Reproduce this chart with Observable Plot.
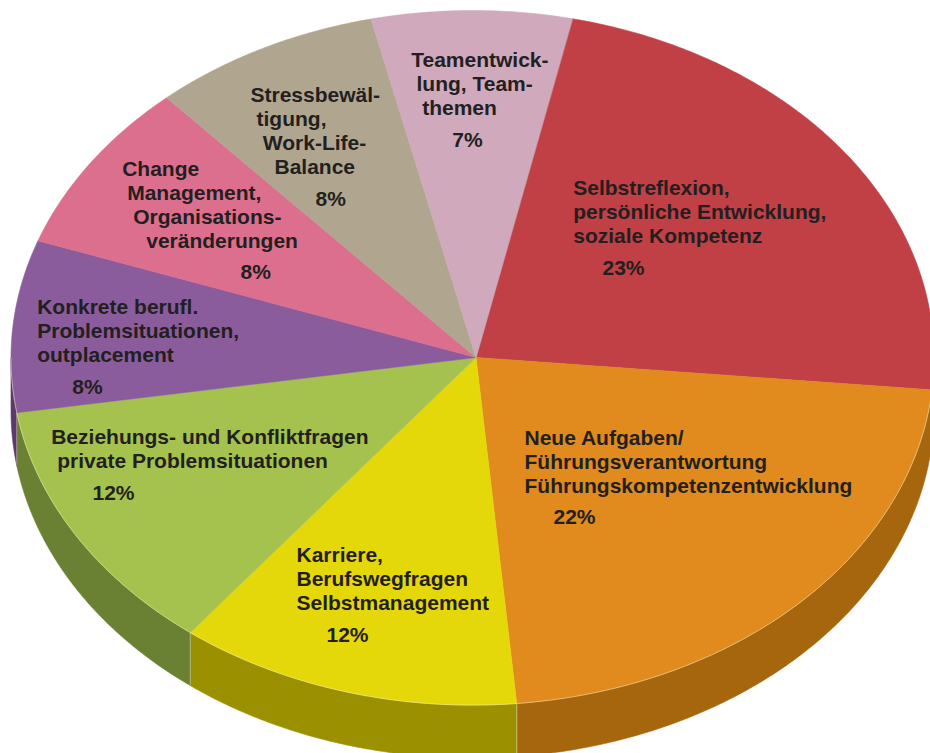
<!DOCTYPE html>
<html><head><meta charset="utf-8">
<script src="https://cdn.jsdelivr.net/npm/d3@7"></script>
<script src="https://cdn.jsdelivr.net/npm/@observablehq/plot@0.6"></script>
<style>html,body{margin:0;padding:0;background:#fff;} #chart svg{overflow:hidden;display:block}</style>
</head><body><div id="chart"></div>
<script>
// ---- data ----
const categories = [
  "Selbstreflexion, persönliche Entwicklung, soziale Kompetenz",
  "Neue Aufgaben/ Führungsverantwortung Führungskompetenzentwicklung",
  "Karriere, Berufswegfragen Selbstmanagement",
  "Beziehungs- und Konfliktfragen private Problemsituationen",
  "Konkrete berufl. Problemsituationen, outplacement",
  "Change Management, Organisationsveränderungen",
  "Stressbewältigung, Work-Life-Balance",
  "Teamentwicklung, Teamthemen"
];
const values = [23, 22, 12, 12, 8, 8, 8, 7];
const labelLines = [
  ["Selbstreflexion,", "persönliche Entwicklung,", "soziale Kompetenz"],
  ["Neue Aufgaben/", "Führungsverantwortung", "Führungskompetenzentwicklung"],
  ["Karriere,", "Berufswegfragen", "Selbstmanagement"],
  ["Beziehungs- und Konfliktfragen", "private Problemsituationen"],
  ["Konkrete berufl.", "Problemsituationen,", "outplacement"],
  ["Change", "Management,", "Organisations-", "veränderungen"],
  ["Stressbewäl-", "tigung,", "Work-Life-", "Balance"],
  ["Teamentwick-", "lung, Team-", "themen"]
];
const percentLabels = values.map(v => v + "%");

// ---- styles ----
const topColors  = ["#C04046", "#E18A1D", "#E5D80A", "#A4C24D", "#8A5C9C", "#DD6F8E", "#B0A68F", "#D0A9BC"];
const sideColors = ["#8E2A30", "#A5660D", "#9B9100", "#6A8033", "#5B3A6B", "#A8506A", "#857C68", "#A08090"];

// ---- layout (pixels) ----
const W = 930, H = 753;
const cx = 472, cy = 357.3, rx = 461.5, ry = 347.3, depth = 53, startDeg = 12.5;
const vertex = [475.5, 357];
// label anchors: [x, first baseline, per-line indents, percent x]
const labelLayout = [
  [572.7, 194.3, [0, 0, 0], 602],
  [524, 444, [0, 0, 0], 553],
  [296, 561.7, [0, 0, 0], 326],
  [50.7, 443.3, [0, 6], 92],
  [36.7, 313.3, [0, 0, 0], 71.7],
  [121.7, 175, [0, 5, 11, 24], 240],
  [250, 101.7, [0, 6, 12.3, 24], 315],
  [410.7, 66.7, [0, 5.3, 11], 451.7]
];
const lineStep = 24, pctGap = 31.7;

// ---- geometry ----
const total = d3.sum(values);
let acc = startDeg;
const slices = values.map((v, i) => { const a0 = acc; const a1 = acc + v / total * 360; acc = a1; return {i, a0, a1}; });
const pt = (deg, dy = 0) => { const t = deg * Math.PI / 180; return {x: cx + rx * Math.sin(t), y: cy - ry * Math.cos(t) + dy}; };
const arc = (a0, a1, dy) => { const n = Math.max(2, Math.ceil(Math.abs(a1 - a0) / 0.5)); return d3.range(n + 1).map(j => pt(a0 + (a1 - a0) * j / n, dy)); };

const topPts = [];
slices.forEach(s => {
  topPts.push({k: s.i, c: topColors[s.i], x: vertex[0], y: vertex[1]});
  arc(s.a0, s.a1, 0).forEach(p => topPts.push({k: s.i, c: topColors[s.i], ...p}));
});
const sidePts = [];
const sideEdges = [];
slices.forEach(s => {
  const lo = Math.max(s.a0, 90), hi = Math.min(s.a1, 270);
  if (lo < hi) {
    arc(lo, hi, 0).forEach(p => sidePts.push({k: s.i, c: sideColors[s.i], ...p}));
    arc(hi, lo, depth).forEach(p => sidePts.push({k: s.i, c: sideColors[s.i], ...p}));
  }
  if (s.a1 > 90 && s.a1 < 270) {
    const p = pt(s.a1);
    sideEdges.push({x: p.x, y1: p.y, y2: p.y + depth});
  }
});
const frontEdge = arc(90, 270, 0);

const texts = [];
labelLines.forEach((lines, i) => {
  const [x0, b0, dx, px] = labelLayout[i];
  lines.forEach((t, j) => texts.push({t, x: x0 + (dx[j] || 0), y: b0 + j * lineStep}));
  texts.push({t: percentLabels[i], x: px, y: b0 + (lines.length - 1) * lineStep + pctGap});
});

const chart = Plot.plot({
  width: W, height: H,
  margin: 0,
  x: {domain: [0, W], range: [0, W], axis: null},
  y: {domain: [0, H], range: [0, H], axis: null},
  color: {type: "identity"},
  style: {background: "#fff", overflow: "hidden"},
  marks: [
    Plot.line(sidePts, {x: "x", y: "y", z: "k", fill: "c", stroke: "c", strokeWidth: 0.6, curve: "linear-closed"}),
    Plot.link(sideEdges, {x1: "x", x2: "x", y1: "y1", y2: "y2", stroke: "#E8DDB0", strokeOpacity: 0.55, strokeWidth: 1}),
    Plot.line(topPts, {x: "x", y: "y", z: "k", fill: "c", stroke: "c", strokeWidth: 0.6, curve: "linear-closed"}),
    Plot.line(frontEdge, {x: "x", y: "y", stroke: "#F4EBC8", strokeOpacity: 0.5, strokeWidth: 1}),
    Plot.text(texts, {x: "x", y: "y", text: "t", textAnchor: "start", lineAnchor: "bottom",
      fontSize: 21, fontWeight: "bold", fontFamily: "Liberation Sans, Arial, Helvetica, sans-serif", fill: "#231F20"})
  ]
});
document.getElementById("chart").appendChild(chart);
</script>
</body></html>
